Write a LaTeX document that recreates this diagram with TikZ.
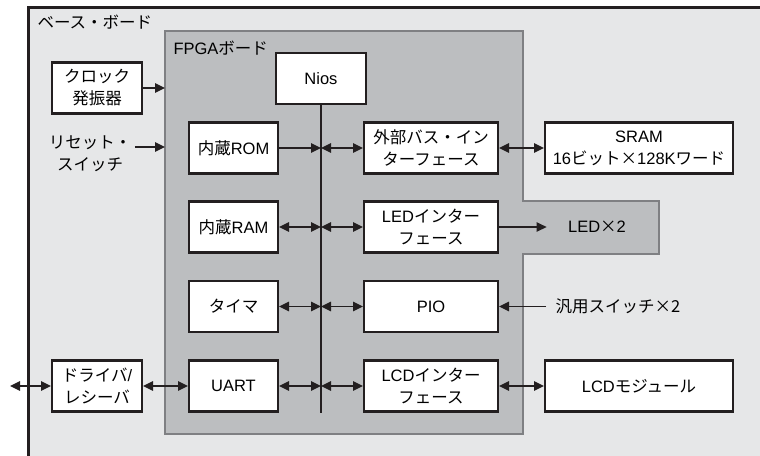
\documentclass[tikz,border=0pt]{standalone}
\usepackage{fontspec}
\setmainfont{Liberation Sans}
\newfontfamily\jpfont{Noto Sans CJK JP}
\newcommand{\jp}[1]{{\jpfont #1}}
\usetikzlibrary{arrows.meta}
\definecolor{basefill}{HTML}{E6E7E8}
\definecolor{fpgafill}{HTML}{BCBEC0}
\definecolor{fpgaedge}{HTML}{7F8083}
\definecolor{ink}{HTML}{231F20}

\begin{document}
\begin{tikzpicture}[x=1pt,y=-1pt,>={Triangle[length=10pt,width=9.5pt]},
  font=\fontsize{16.5}{22}\selectfont,
  blk/.style={draw=ink,line width=2.4pt,fill=white,inner sep=0pt,align=center,minimum height=51pt},
  lnk/.style={draw=ink,line width=1.3pt}]
  \useasboundingbox (0,0) rectangle (760,455);
  \clip (0,0) rectangle (760,455);
  \draw[ink,line width=2.4pt,fill=basefill] (28.5,7.5) rectangle (800,500);
  \draw[fpgaedge,line width=2pt,fill=fpgafill] (165,31) -- (523,31) -- (523,201) -- (659,201)
    -- (659,254) -- (523,254) -- (523,434) -- (165,434) -- cycle;
  \coordinate (fpgaL) at (165,0);
  \coordinate (busend) at (321,413);
  \coordinate (ext) at (10,386);
  \node[anchor=west] (base) at (34,22) {\jp{ベース・ボード}};
  \node[anchor=west] (fpga) at (170,48) {FPGA\jp{ボード}};

  \node[blk,minimum width=89.6pt] (clk) at (97,88) {\jp{クロック}\\\jp{発振器}};
  \node[align=center] (reset) at (90,154) {\jp{リセット・}\\\jp{スイッチ}};
  \node[blk,minimum width=89.6pt] (drv) at (97,386) {\jp{ドライバ}/\\\jp{レシーバ}};

  \node[blk,minimum width=89.6pt] (nios) at (321,78.5) {Nios};
  \node[blk,minimum width=88.6pt] (rom) at (233.5,148) {\jp{内蔵}ROM};
  \node[blk,minimum width=88.6pt] (ram) at (233.5,227) {\jp{内蔵}RAM};
  \node[blk,minimum width=88.6pt] (tmr) at (233.5,306.5) {\jp{タイマ}};
  \node[blk,minimum width=88.6pt] (uart) at (233.5,386) {UART};
  \node[blk,minimum width=133.6pt] (extif) at (431,148) {\jp{外部バス・イン}\\\jp{ターフェース}};
  \node[blk,minimum width=133.6pt] (ledif) at (431,227) {LED\jp{インター}\\\jp{フェース}};
  \node[blk,minimum width=133.6pt] (pio) at (431,306.5) {PIO};
  \node[blk,minimum width=133.6pt] (lcdif) at (431,386) {LCD\jp{インター}\\\jp{フェース}};
  \node[blk,minimum width=187.6pt] (sram) at (639,148) {SRAM\\16\jp{ビット×}128K\jp{ワード}};
  \node[blk,minimum width=187.6pt] (lcdm) at (639,386) {LCD\jp{モジュール}};
  \node (ledx) at (597,227) {LED\jp{×}2};
  \node[anchor=west] (sw) at (552,306.5) {\jp{汎用スイッチ×2}};

  \draw[ink,line width=2.4pt] (nios.south) -- (busend);
  \draw[lnk,->] (clk.east) -- (clk.east -| fpgaL);
  \draw[lnk,->] ([yshift=7pt]reset.east) -- ([yshift=7pt]reset.east -| fpgaL);
  \draw[lnk,<->] (ext) -- (drv.west);
  \draw[lnk,<->] (drv.east) -- (uart.west);
  \draw[lnk,->] (rom.east) -- (rom.east -| busend);
  \draw[lnk,<->] (ram.east) -- (ram.east -| busend);
  \draw[lnk,<->] (tmr.east) -- (tmr.east -| busend);
  \draw[lnk,<->] (uart.east) -- (uart.east -| busend);
  \draw[lnk,<->] (extif.west -| busend) -- (extif.west);
  \draw[lnk,<->] (ledif.west -| busend) -- (ledif.west);
  \draw[lnk,<->] (pio.west -| busend) -- (pio.west);
  \draw[lnk,<->] (lcdif.west -| busend) -- (lcdif.west);
  \draw[lnk,<->] (extif.east) -- (sram.west);
  \draw[lnk,<->] (lcdif.east) -- (lcdm.west);
  \draw[lnk,->,shorten >=18pt] (ledif.east) -- (ledx.west);
  \draw[lnk,->,shorten <=6pt] (sw.west) -- (pio.east);
\end{tikzpicture}
\end{document}
